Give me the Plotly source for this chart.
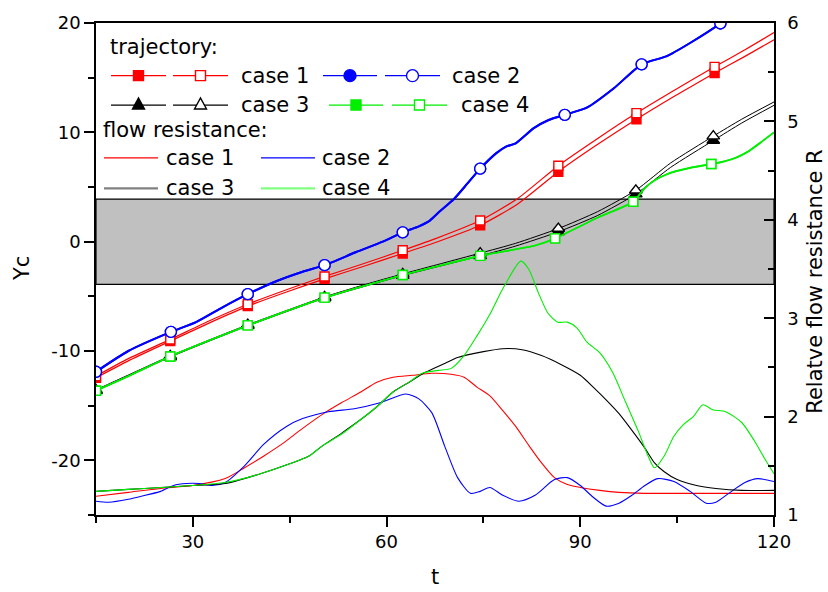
import plotly.graph_objects as go

# ---------------- data ----------------
# relative flow resistance R (right axis)
res_red_t = [15, 20, 25, 30, 35, 38, 41, 44, 47, 50, 53, 56, 58.5, 61, 64, 67, 70, 72, 74, 76, 78, 80, 82, 84, 86, 88, 90, 93, 96, 100, 105, 110, 115, 120]
res_red_R = [1.19, 1.23, 1.27, 1.30, 1.37, 1.48, 1.60, 1.73, 1.88, 2.02, 2.14, 2.25, 2.35, 2.40, 2.42, 2.44, 2.43, 2.40, 2.30, 2.21, 2.06, 1.90, 1.71, 1.53, 1.38, 1.31, 1.28, 1.25, 1.23, 1.22, 1.22, 1.22, 1.22, 1.22]

res_blue_t = [15, 17, 20, 22, 25, 27, 29, 31, 33, 35, 38, 41, 44.5, 47, 51, 55, 59, 63, 65, 67, 69, 71, 73, 74.5, 76, 78, 80.5, 83, 86, 88, 90, 92, 94, 96, 98, 100, 102, 104.5, 107, 109.5, 111, 113, 115.5, 117.5, 120]
res_blue_R = [1.14, 1.13, 1.16, 1.19, 1.24, 1.30, 1.32, 1.32, 1.30, 1.33, 1.50, 1.72, 1.90, 1.98, 2.05, 2.08, 2.14, 2.23, 2.18, 2.04, 1.70, 1.38, 1.22, 1.24, 1.28, 1.20, 1.14, 1.20, 1.36, 1.38, 1.30, 1.18, 1.09, 1.12, 1.20, 1.30, 1.37, 1.34, 1.24, 1.12, 1.13, 1.22, 1.33, 1.37, 1.34]

res_black_t = [15, 20, 25, 30, 35, 40, 45, 48, 50, 53, 56, 58.5, 61, 63.5, 66, 69, 71, 75, 78, 81, 84, 87, 90, 92, 94, 96, 98, 100, 101.5, 103, 105, 108, 111, 115, 120]
res_black_R = [1.24, 1.26, 1.28, 1.30, 1.32, 1.41, 1.52, 1.60, 1.70, 1.83, 1.97, 2.10, 2.25, 2.35, 2.45, 2.54, 2.60, 2.66, 2.69, 2.68, 2.62, 2.53, 2.42, 2.30, 2.17, 2.03, 1.86, 1.68, 1.53, 1.44, 1.36, 1.30, 1.27, 1.25, 1.25]

res_green_t = [15, 20, 25, 30, 35, 40, 45, 48, 50, 53, 56, 58.5, 61, 63.5, 65.5, 68, 70, 72, 74, 76, 78, 80.8, 82, 83.5, 85, 86.5, 88, 89.5, 91, 93, 95, 97, 99, 100.5, 101.5, 103, 104.5, 106, 107.5, 109, 110.5, 112.5, 115, 117, 118.5, 120]
res_green_R = [1.24, 1.26, 1.28, 1.30, 1.33, 1.41, 1.52, 1.60, 1.70, 1.82, 1.97, 2.10, 2.25, 2.35, 2.44, 2.47, 2.49, 2.62, 2.82, 3.04, 3.30, 3.58, 3.50, 3.26, 3.05, 2.96, 2.96, 2.90, 2.76, 2.65, 2.45, 2.15, 1.85, 1.60, 1.48, 1.60, 1.80, 1.92, 2.00, 2.12, 2.07, 2.05, 1.94, 1.75, 1.58, 1.42]

# trajectory Yc (left axis)
traj_red_t = [15, 20, 26.5, 32.5, 38.5, 44.5, 50.4, 56.5, 62.5, 67.7, 74.5, 80.2, 86.6, 92.7, 98.7, 104.7, 110.8, 115.5, 120]
traj_red_open_y = [-12.3, -10.7, -8.94, -7.25, -5.72, -4.4, -3.18, -2.0, -0.79, 0.3, 1.93, 3.9, 6.95, 9.44, 11.76, 13.9, 15.99, 17.55, 19.13]
traj_red_fill_y = [-12.45, -10.9, -9.1, -7.45, -5.9, -4.6, -3.4, -2.25, -1.08, -0.05, 1.5, 3.4, 6.4, 8.9, 11.2, 13.35, 15.42, 16.95, 18.47]
mark_red_t = [15, 26.5, 38.5, 50.4, 62.5, 74.5, 86.6, 98.7, 110.8]

traj_blue_t = [15, 20, 26.6, 30.5, 34.6, 38.5, 43, 47, 50.4, 55.3, 59.4, 62.5, 65, 66.7, 68.3, 70.4, 72.5, 74.5, 77, 78.5, 80, 82.8, 85.1, 87.6, 91, 95.2, 99.5, 103.4, 107, 111.7, 113.5]
traj_blue_y = [-11.9, -10.0, -8.25, -7.35, -6.0, -4.8, -3.6, -2.75, -2.15, -0.95, 0.0, 0.85, 1.4, 1.93, 2.8, 3.88, 5.3, 6.68, 8.1, 8.7, 9.0, 10.38, 11.13, 11.6, 12.25, 14.03, 16.22, 16.97, 18.17, 19.96, 20.8]
mark_blue_t = [15, 26.6, 38.5, 50.4, 62.5, 74.5, 87.6, 99.5, 111.7]

traj_black_t = [15, 20, 26.5, 32.5, 38.5, 44.5, 50.4, 56.5, 62.5, 68.5, 74.5, 80, 86.6, 92.7, 98.6, 104, 110.6, 115, 120]
traj_black_open_y = [-13.55, -12.2, -10.45, -9.0, -7.6, -6.3, -5.05, -3.95, -2.95, -2.0, -1.05, -0.15, 1.2, 2.75, 4.7, 7.2, 9.65, 11.2, 12.78]
traj_black_fill_y = [-13.65, -12.3, -10.55, -9.1, -7.7, -6.4, -5.15, -4.1, -3.1, -2.2, -1.3, -0.4, 0.9, 2.4, 4.35, 6.8, 9.25, 10.85, 12.47]
mark_black_t = [15, 26.5, 38.5, 50.4, 62.5, 74.5, 86.6, 98.6, 110.6]

traj_green_t = [15, 20, 26.5, 32.5, 38.5, 44.5, 50.4, 56.5, 62.5, 68.5, 74.5, 80, 83, 86.1, 92.7, 98.2, 100, 101.5, 103.5, 107, 110.3, 112, 114, 116, 118, 120]
traj_green_y = [-13.63, -12.3, -10.5, -9.05, -7.66, -6.35, -5.12, -4.05, -3.05, -2.15, -1.3, -0.7, -0.35, 0.3, 2.2, 3.65, 4.9, 5.6, 6.2, 6.75, 7.1, 7.3, 7.65, 8.25, 9.1, 10.0]
mark_green_t = [15, 26.5, 38.5, 50.4, 62.5, 74.5, 86.1, 98.2, 110.3]

band_low, band_high = -3.9, 3.9

x_ticks = [30, 60, 90, 120]
x_minor = [15, 45, 75, 105]
y_ticks = [-20, -10, 0, 10, 20]
y_minor = [-25, -15, -5, 5, 15]
y2_ticks = [1, 2, 3, 4, 5, 6]
y2_minor = [1.5, 2.5, 3.5, 4.5, 5.5]

# ---------------- figure ----------------
W, H = 828, 592
ML, MR, MT, MB = 96, 54, 13, 77
PW, PH = W - ML - MR, H - MT - MB

RED, BLUE, BLACK, GREEN = '#ff0000', '#0000ff', '#000000', '#00ee00'
FONT = 'DejaVu Sans'

fig = go.Figure()


def add_traj(t, y, mt, color, symbol, filled, width, size):
    fig.add_trace(go.Scatter(x=t, y=y, mode='lines', yaxis='y',
                             line=dict(color=color, width=width, shape='spline', smoothing=0.6),
                             hoverinfo='skip', showlegend=False))
    idx = [i for i, v in enumerate(t) if v in mt]
    fig.add_trace(go.Scatter(x=[t[i] for i in idx], y=[y[i] for i in idx], mode='markers', yaxis='y',
                             marker=dict(symbol=symbol, size=size, color=color if filled else 'white',
                                         line=dict(color=color, width=1.4)),
                             hoverinfo='skip', showlegend=False))


add_traj(traj_red_t, traj_red_fill_y, mark_red_t, RED, 'square', True, 1.2, 9)
add_traj(traj_red_t, traj_red_open_y, mark_red_t, RED, 'square', False, 1.2, 9)
add_traj(traj_blue_t, traj_blue_y, mark_blue_t, BLUE, 'circle', True, 2, 11)
add_traj(traj_blue_t, traj_blue_y, mark_blue_t, BLUE, 'circle', False, 2, 11)
add_traj(traj_black_t, traj_black_fill_y, mark_black_t, BLACK, 'triangle-up', True, 1, 11)
add_traj(traj_black_t, traj_black_open_y, mark_black_t, BLACK, 'triangle-up', False, 1, 11)
add_traj(traj_green_t, traj_green_y, mark_green_t, GREEN, 'square', True, 1.6, 9)
add_traj(traj_green_t, traj_green_y, mark_green_t, GREEN, 'square', False, 1.6, 9)

for t, r, c in [(res_red_t, res_red_R, RED), (res_blue_t, res_blue_R, BLUE),
                (res_black_t, res_black_R, BLACK), (res_green_t, res_green_R, GREEN)]:
    fig.add_trace(go.Scatter(x=t, y=r, mode='lines', yaxis='y2',
                             line=dict(color=c, width=1.1, shape='spline', smoothing=0.7),
                             hoverinfo='skip', showlegend=False))

shapes = []
# gray band
shapes.append(dict(type='rect', xref='paper', yref='y', x0=0, x1=1, y0=band_low, y1=band_high,
                   fillcolor='#c0c0c0', line=dict(color='black', width=1.2), layer='below'))


def fx(p):
    return (p - ML) / PW


def fy(p):
    return (MT + PH - p) / PH


def leg_line(x0, x1, y, color, width=1.2):
    shapes.append(dict(type='line', xref='paper', yref='paper', x0=fx(x0), x1=fx(x1), y0=fy(y), y1=fy(y),
                       line=dict(color=color, width=width)))


def leg_marker(xc, yc, kind, color, filled):
    base = dict(xref='paper', yref='paper', xsizemode='pixel', ysizemode='pixel',
                xanchor=fx(xc), yanchor=fy(yc), fillcolor=color if filled else 'white',
                line=dict(color=color, width=1.4))
    if kind == 'square':
        base.update(type='rect', x0=-5, x1=5, y0=-5, y1=5)
    elif kind == 'circle':
        base.update(type='circle', x0=-6, x1=6, y0=-6, y1=6)
    else:
        base.update(type='path', path='M-6,-4 L6,-4 L0,7 Z')
    shapes.append(base)


annotations = []


def leg_text(x, y, s):
    annotations.append(dict(xref='paper', yref='paper', x=fx(x), y=fy(y), xanchor='left', yanchor='middle',
                            text=s, showarrow=False, font=dict(family=FONT, size=21, color='black')))


leg_text(108, 37, 'trajectory:')
rows = [
    (66.7, [(111, 166, RED, 'square', True), (173, 228, RED, 'square', False)], 239, 'case 1'),
    (66.7, [(323, 377, BLUE, 'circle', True), (385, 440, BLUE, 'circle', False)], 450, 'case 2'),
    (96.7, [(111, 166, BLACK, 'tri', True), (173, 228, BLACK, 'tri', False)], 239, 'case 3'),
    (96.7, [(329, 383, GREEN, 'square', True), (392, 447, GREEN, 'square', False)], 459, 'case 4'),
]
for y, samples, tx, label in rows:
    for x0, x1, c, k, f in samples:
        leg_line(x0, x1, y, c)
        leg_marker((x0 + x1) / 2, y, k, c, f)
    leg_text(tx, y, label)

leg_text(101, 122, 'flow resistance:')
for y, x0, x1, c, w, tx, label in [(150.7, 104, 158, RED, 1.2, 164, 'case 1'),
                                   (150.7, 261, 315, BLUE, 1.2, 320, 'case 2'),
                                   (181.7, 104, 158, '#808080', 2.2, 164, 'case 3'),
                                   (181.7, 261, 315, '#80ff80', 2.2, 320, 'case 4')]:
    leg_line(x0, x1, y, c, w)
    leg_text(tx, y, label)

# axis titles
annotations.append(dict(xref='paper', yref='paper', x=0, y=0.5, xshift=-74, textangle=-90,
                        xanchor='center', yanchor='middle', text='Yc', showarrow=False,
                        font=dict(family=FONT, size=21, color='black')))
annotations.append(dict(xref='paper', yref='paper', x=0.5, y=0, yshift=-62,
                        xanchor='center', yanchor='middle', text='t', showarrow=False,
                        font=dict(family=FONT, size=21, color='black')))
annotations.append(dict(xref='paper', yref='paper', x=1, y=fy(277), xshift=41, textangle=-90,
                        xanchor='center', yanchor='middle', text='Relatve flow resistance R', showarrow=False,
                        font=dict(family=FONT, size=21, color='black')))

axis_common = dict(showline=True, linecolor='black', linewidth=1.5, showgrid=False, zeroline=False,
                   tickcolor='black', tickwidth=1.5, tickfont=dict(family=FONT, size=18, color='black'))

fig.update_layout(
    width=W, height=H, margin=dict(l=ML, r=MR, t=MT, b=MB, pad=0),
    paper_bgcolor='white', plot_bgcolor='white', showlegend=False,
    font=dict(family=FONT, size=18, color='black'),
    xaxis=dict(range=[15, 120], tickvals=x_ticks, ticktext=[str(v) for v in x_ticks],
               ticks='outside', ticklen=10, mirror=True,
               minor=dict(tickvals=x_minor, ticks='outside', ticklen=6, tickwidth=1.5, tickcolor='black'),
               **axis_common),
    yaxis=dict(range=[-25, 20], tickvals=y_ticks, ticktext=[str(v) for v in y_ticks],
               ticks='outside', ticklen=10,
               minor=dict(tickvals=y_minor, ticks='outside', ticklen=6, tickwidth=1.5, tickcolor='black'),
               **axis_common),
    yaxis2=dict(range=[1, 6], overlaying='y', side='right', tickvals=y2_ticks,
                ticktext=[str(v) for v in y2_ticks], ticks='inside', ticklen=10, ticklabelstandoff=8,
                minor=dict(tickvals=y2_minor, ticks='inside', ticklen=6, tickwidth=1.5, tickcolor='black'),
                **axis_common),
    shapes=shapes, annotations=annotations,
)

fig.write_html('out.html')
